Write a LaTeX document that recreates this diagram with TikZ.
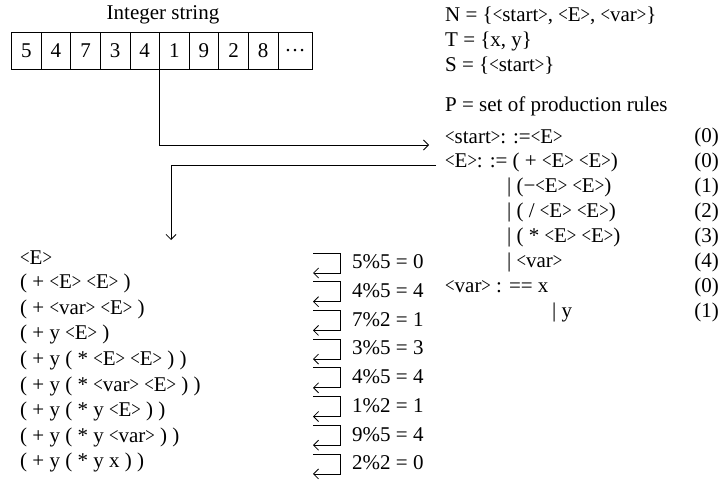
\documentclass[tikz,border=0pt]{standalone}
\usepackage{fontspec}
\usepackage{graphicx}
\setmainfont{Liberation Serif}
\usetikzlibrary{arrows.meta}
\newcommand\la{\scalebox{0.8}[1]{<}}
\newcommand\ra{\scalebox{0.8}[1]{>}}
\begin{document}
\begin{tikzpicture}[x=1pt,y=-1pt,
  txt/.style={inner sep=0pt, font=\fontsize{21}{25}\selectfont},
  lt/.style={txt, anchor=west},
  rt/.style={txt, anchor=east},
  cell/.style={draw, line width=0.8pt, minimum height=37pt, inner sep=0pt, font=\fontsize{21}{25}\selectfont},
  conn/.style={line width=0.8pt},
  arr/.style={conn, -{Straight Barb[length=5pt,width=10pt]}},
  brk/.style={conn, -{Straight Barb[length=5pt,width=10pt]}}
]
\useasboundingbox (0,0) rectangle (728,487);

% integer string
\node[txt] (title) at (163,15) {Integer string};
\foreach \d [count=\i] in {5,4,7,3,4,1,9,2,8}
  \node[cell, minimum width=29.6pt] (c\i) at ({11.5+29.6*(\i-0.5)},50.5) {\d};
\node[cell, minimum width=34.6pt] (c10) at (295.2,50.5) {\ldots};

% grammar
\node[lt] (N) at (445,16) {N = \{\la start\ra, \la E\ra, \la var\ra\}};
\node[lt] (T) at (445,41) {T = \{x, y\}};
\node[lt] (S) at (445,66) {S = \{\la start\ra\}};
\node[lt] (P) at (445,106) {P = set of production rules};
\node[lt] (start) at (445,137) {\la start\ra: :=\la E\ra};
\node[lt] (E) at (445,162) {\la E\ra: := ( + \la E\ra{} \la E\ra)};
\node[lt] (a1) at (507,187) {| (−\la E\ra{} \la E\ra)};
\node[lt] (a2) at (507,212) {| ( / \la E\ra{} \la E\ra)};
\node[lt] (a3) at (507,237) {| ( * \la E\ra{} \la E\ra)};
\node[lt] (a4) at (507,262) {| \la var\ra};
\node[lt] (V) at (445,287) {\la var\ra{} : == x};
\node[lt] (a5) at (552,312) {| y};
\node[rt] (n0) at (719,137) {(0)};
\node[rt] (n1) at (719,162) {(0)};
\node[rt] (n2) at (719,187) {(1)};
\node[rt] (n3) at (719,212) {(2)};
\node[rt] (n4) at (719,237) {(3)};
\node[rt] (n5) at (719,262) {(4)};
\node[rt] (n6) at (719,287) {(0)};
\node[rt] (n7) at (719,312) {(1)};

% connectors between blocks
\coordinate (tip1) at (429,145);
\draw[arr] (c6.south west) |- (tip1);
\coordinate (from2) at (436,165);
\coordinate (tip2) at (171,240);
\draw[arr] (from2) -| (tip2);

% derivation
\node[lt] (r1) at (20,258) {\la E\ra};
\node[lt] (r2) at (20,283.6) {( + \la E\ra{} \la E\ra{} )};
\node[lt] (r3) at (20,309.2) {( + \la var\ra{} \la E\ra{} )};
\node[lt] (r4) at (20,334.8) {( + y \la E\ra{} )};
\node[lt] (r5) at (20,360.4) {( + y ( * \la E\ra{} \la E\ra{} ) )};
\node[lt] (r6) at (20,386) {( + y ( * \la var\ra{} \la E\ra{} ) )};
\node[lt] (r7) at (20,411.6) {( + y ( * y \la E\ra{} ) )};
\node[lt] (r8) at (20,437.2) {( + y ( * y \la var\ra{} ) )};
\node[lt] (r9) at (20,462.8) {( + y ( * y x ) )};

% modulo labels with brackets
\foreach \t [count=\i] in {5\%5 = 0, 4\%5 = 4, 7\%2 = 1, 3\%5 = 3, 4\%5 = 4, 1\%2 = 1, 9\%5 = 4, 2\%2 = 0} {
  \node[lt] (l\i) at (352,{262+28.7*(\i-1)}) {\t};
  \draw[brk] ([xshift=-39pt,yshift=9pt]l\i.west) -| ([xshift=-12pt,yshift=-11pt]l\i.west)
     -- ([xshift=-39pt,yshift=-11pt]l\i.west);
}
\end{tikzpicture}
\end{document}
